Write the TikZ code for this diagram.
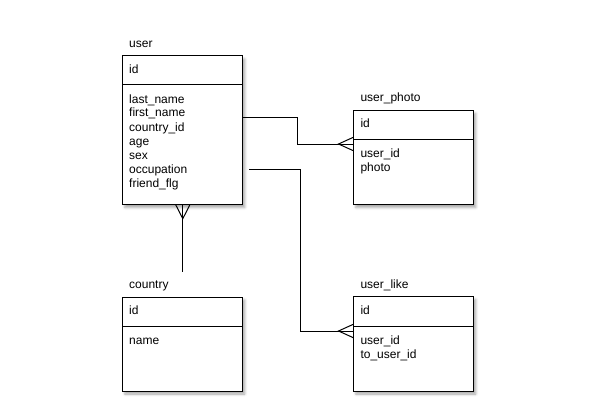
\documentclass[tikz,border=0pt]{standalone}
\usepackage{fontspec}
\setmainfont{Liberation Sans}
\usetikzlibrary{calc,shadows.blur}
\tikzset{
  tbl/.style={draw, line width=1pt, fill=white, anchor=north west, inner sep=0pt,
    minimum width=120pt,
    blur shadow={shadow xshift=2pt, shadow yshift=-3pt, shadow blur radius=2.5pt, shadow opacity=35}},
  fld/.style={anchor=base west, inner sep=0pt, font=\fontsize{12}{14}\selectfont},
  conn/.style={line width=1pt, line join=miter},
}
\begin{document}
\begin{tikzpicture}[x=1pt,y=-1pt]
\useasboundingbox (0,0) rectangle (592,420);
% boxes
\node[tbl, minimum height=148.5pt] (user) at (122.3,55.5) {};
\node[tbl, minimum height=94pt] (photo) at (353.3,110) {};
\node[tbl, minimum height=94pt] (country) at (122.3,296.5) {};
\node[tbl, minimum height=94.5pt] (like) at (353.3,296) {};
% dividers
\draw[conn] ($(user.north west)+(0,29.5)$) -- ($(user.north east)+(0,29.5)$);
\draw[conn] ($(photo.north west)+(0,29.5)$) -- ($(photo.north east)+(0,29.5)$);
\draw[conn] ($(country.north west)+(0,29.5)$) -- ($(country.north east)+(0,29.5)$);
\draw[conn] ($(like.north west)+(0,30)$) -- ($(like.north east)+(0,30)$);
% user
\node[fld] (userlbl) at (129,47.3) {user};
\node[fld] (uid) at (129,73.5) {id};
\node[fld] (ulast) at (129,103) {last\_name};
\node[fld] (ufirst) at (129,117) {first\_name};
\node[fld] (ucountry) at (129,131) {country\_id};
\node[fld] (uage) at (129,145) {age};
\node[fld] (usex) at (129,159) {sex};
\node[fld] (uocc) at (129,173) {occupation};
\node[fld] (ufriend) at (129,187) {friend\_flg};
% user_photo
\node[fld] (photolbl) at (360.3,101.5) {user\_photo};
\node[fld] (pid) at (360.3,128) {id};
\node[fld] (puser) at (360.3,157.5) {user\_id};
\node[fld] (pphoto) at (360.3,171.5) {photo};
% country
\node[fld] (countrylbl) at (129,288) {country};
\node[fld] (cid) at (129,314.5) {id};
\node[fld] (cname) at (129,344) {name};
% user_like
\node[fld] (likelbl) at (360.3,288) {user\_like};
\node[fld] (lid) at (360.3,314) {id};
\node[fld] (luser) at (360.3,344) {user\_id};
\node[fld] (lto) at (360.3,358) {to\_user\_id};
% connector user -> user_photo
\draw[conn] ($(user.north east)+(0,61.5)$) -| ($(photo.north west)+(-56,34)$) -- ($(photo.north west)+(0,34)$);
\draw[conn] ($(photo.north west)+(0,27.3)$) -- ($(photo.north west)+(-14.8,34)$) -- ($(photo.north west)+(0,40.7)$);
% connector user -> user_like
\draw[conn] ($(user.north east)+(5.7,113.5)$) -| ($(like.north west)+(-52.8,35)$) -- ($(like.north west)+(0,35)$);
\draw[conn] ($(like.north west)+(0,28.3)$) -- ($(like.north west)+(-14.8,35)$) -- ($(like.north west)+(0,41.7)$);
% connector user -> country
\coordinate (cend) at ($(user.south)+(0,67)$);
\draw[conn] (user.south) -- (cend);
\draw[conn] ($(user.south)+(-7,0)$) -- ($(user.south)+(0,13.7)$) -- ($(user.south)+(7,0)$);
\end{tikzpicture}
\end{document}
